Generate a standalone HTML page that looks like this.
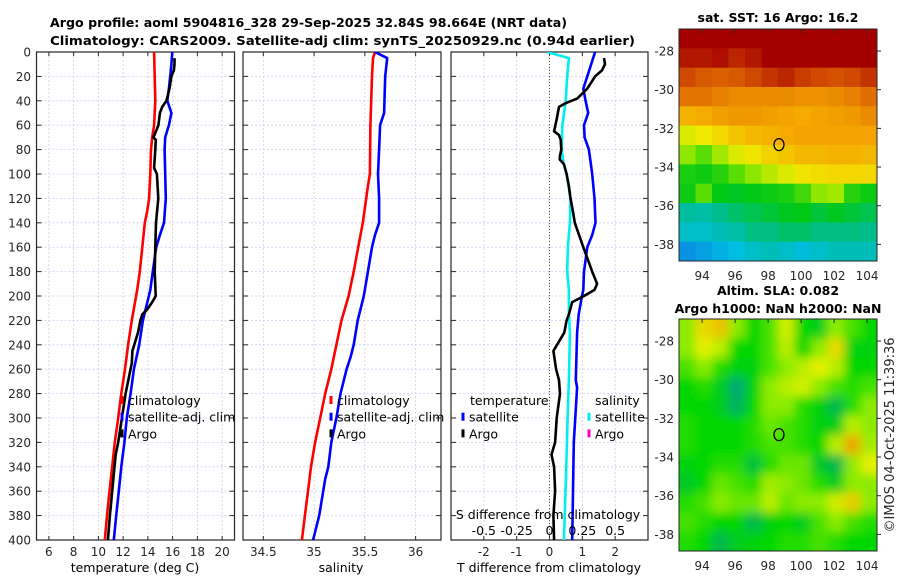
<!DOCTYPE html>
<html><head><meta charset="utf-8">
<style>
html,body{margin:0;padding:0;background:#fff;}
svg{display:block;font-family:"DejaVu Sans","Liberation Sans",sans-serif;}
.tk{font-size:12px;fill:#262626;}
.ttl{font-size:12.5px;font-weight:bold;fill:#000;}
.lg{font-size:12.5px;fill:#000;}
</style></head>
<body>
<svg id="fig" width="900" height="580" viewBox="0 0 900 580" xmlns="http://www.w3.org/2000/svg">
<defs>
<clipPath id="c1"><rect x="37" y="52" width="197" height="488"/></clipPath>
<clipPath id="c2"><rect x="243" y="52" width="198" height="488"/></clipPath>
<clipPath id="c3"><rect x="451" y="52" width="197" height="488"/></clipPath>
<clipPath id="cm1"><rect x="679" y="29" width="198" height="232"/></clipPath>
<clipPath id="cm2"><rect x="679" y="319" width="198" height="232"/></clipPath>
<filter id="blur" x="-5%" y="-5%" width="110%" height="110%"><feGaussianBlur stdDeviation="5"/></filter>
</defs>
<text class="ttl" x="50" y="27" textLength="517" lengthAdjust="spacingAndGlyphs">Argo profile: aoml 5904816_328 29-Sep-2025 32.84S 98.664E (NRT data)</text>
<text class="ttl" x="50" y="45" textLength="585" lengthAdjust="spacingAndGlyphs">Climatology: CARS2009. Satellite-adj clim: synTS_20250929.nc (0.94d earlier)</text>
<text class="ttl" x="778" y="22" text-anchor="middle">sat. SST: 16 Argo: 16.2</text>
<text class="ttl" x="778" y="295" text-anchor="middle">Altim. SLA: 0.082</text>
<text class="ttl" x="778" y="313" text-anchor="middle">Argo h1000: NaN h2000: NaN</text>
<text class="tk" x="0" y="0" transform="translate(894,435) rotate(-90)" text-anchor="middle" style="font-size:13px">©IMOS 04-Oct-2025 11:39:36</text>
<g id="root"></g>
</svg>
<script>
// ---------- data ----------
const depthTicks = [0,20,40,60,80,100,120,140,160,180,200,220,240,260,280,300,320,340,360,380,400];
const tempTicks = [6,8,10,12,14,16,18,20];
const salTicks = [34.5,35,35.5,36];
const tdiffTicks = [-2,-1,0,1,2];
const sdiffTicks = [-0.5,-0.25,0,0.25,0.5];

const climTdepth = [0,20,40,60,70,80,100,120,130,140,160,180,195,220,240,260,280,300,320,340,360,380,400];
const climT = [14.5,14.55,14.6,14.5,14.35,14.25,14.2,14.1,13.95,13.75,13.55,13.35,13.14,12.7,12.4,12.15,11.85,11.6,11.33,11.12,10.9,10.7,10.52];
const satTdepth = [0,10,20,30,40,50,60,70,80,100,120,140,150,160,180,195,220,240,260,280,300,320,340,360,380,400];
const satT = [15.97,15.9,15.8,15.7,15.57,15.9,15.7,15.4,15.35,15.4,15.45,15.3,14.97,14.67,14.4,14.2,13.6,13.3,12.87,12.6,12.3,12.1,11.85,11.65,11.44,11.25];
const argoTdepth = [5,10,15,20,30,40,45,50,60,65,70,72,80,95,100,120,140,160,180,200,205,211,215,220,230,245,255,265,280,300,320,330,340,360,380,400];
const argoT = [16.15,16.15,16.1,15.9,15.75,15.5,15.16,14.97,14.85,14.66,14.45,14.64,14.6,14.5,14.73,14.84,14.66,14.6,14.55,14.63,14.35,13.95,13.55,13.4,13.2,12.75,12.7,12.5,12.2,11.9,11.6,11.4,11.3,11.12,10.93,10.77];

const climSdepth = [0,5,20,60,100,110,140,160,180,200,220,240,260,280,300,320,340,360,380,400];
const climS = [35.6,35.58,35.57,35.555,35.55,35.53,35.48,35.435,35.39,35.34,35.27,35.22,35.17,35.11,35.06,35.01,34.97,34.94,34.91,34.88];
const satSdepth = [0,5,20,50,60,80,100,120,140,150,160,180,200,220,240,250,260,280,300,320,340,350,360,380,400];
const satS = [35.6,35.72,35.7,35.69,35.65,35.64,35.63,35.64,35.64,35.6,35.57,35.53,35.49,35.43,35.39,35.36,35.32,35.26,35.22,35.17,35.14,35.11,35.09,35.05,34.99];

const sdiffDepth = [0,5,20,40,60,80,90,100,120,140,160,180,195,215,230,269,300,350,400];
const satSdiff = [-0.018,0.148,0.135,0.123,0.098,0.093,0.105,0.13,0.16,0.155,0.14,0.135,0.148,0.148,0.155,0.148,0.138,0.125,0.11];
const tdiffDepth = [0,20,30,40,50,60,70,80,100,120,140,150,160,180,195,200,215,230,269,275,320,400];
const satTdiff = [1.39,1.15,1.03,1.1,1.18,1.05,1.07,1.2,1.3,1.37,1.4,1.3,1.15,1.05,1.03,0.99,0.89,0.84,0.8,0.84,0.74,0.69];
const argoDdepth = [5,10,15,20,30,38,42,45,55,65,68,72,80,85,88,92,100,110,120,130,140,160,180,190,195,200,205,215,220,230,245,260,269,280,300,320,330,340,360,380,400];
const argoTdiff = [1.66,1.69,1.6,1.39,1.15,0.85,0.49,0.29,0.22,0.14,0.29,0.34,0.36,0.32,0.31,0.44,0.52,0.59,0.64,0.71,0.77,1.03,1.3,1.45,1.37,1.05,0.69,0.59,0.52,0.45,0.12,0.2,0.29,0.32,0.22,0.17,0.06,0.14,0.17,0.12,0.14];

const lonTicks = [94,96,98,100,102,104];
const latTicks = [-28,-30,-32,-34,-36,-38];
const argoLon = 98.66, argoLat = -32.84;
const sstGrid = [
[1,1,1,1,1,1,1,1,1,1,1,1],
[0.97,0.97,0.98,0.95,0.97,1,1,1,1,1,1,1],
[0.9,0.88,0.87,0.88,0.9,0.93,0.95,0.92,0.9,0.89,0.9,0.93],
[0.84,0.84,0.82,0.8,0.8,0.8,0.8,0.79,0.79,0.8,0.82,0.85],
[0.74,0.75,0.77,0.78,0.78,0.77,0.76,0.75,0.76,0.77,0.78,0.8],
[0.63,0.65,0.68,0.71,0.73,0.74,0.75,0.76,0.76,0.76,0.76,0.76],
[0.56,0.52,0.58,0.63,0.66,0.69,0.71,0.73,0.73,0.74,0.74,0.73],
[0.47,0.46,0.48,0.52,0.56,0.6,0.63,0.66,0.67,0.68,0.68,0.68],
[0.46,0.52,0.45,0.44,0.45,0.46,0.47,0.5,0.56,0.58,0.48,0.46],
[0.33,0.32,0.35,0.38,0.4,0.42,0.44,0.45,0.42,0.44,0.42,0.4],
[0.28,0.28,0.3,0.32,0.36,0.36,0.38,0.38,0.36,0.36,0.36,0.35],
[0.15,0.18,0.22,0.25,0.28,0.3,0.28,0.26,0.28,0.3,0.3,0.3]];
const slaGrid = [
[0.6,0.85,0.9,0.6,0.4,0.5,0.75,0.4,0.3,0.6,0.5,0.4],
[0.6,0.8,0.7,0.4,0.4,0.5,0.7,0.4,0.6,0.85,0.35,0.35],
[0.5,0.6,0.45,0.35,0.35,0.5,0.6,0.7,0.8,0.7,0.4,0.4],
[0.4,0.45,0.3,0.05,0.35,0.6,0.7,0.75,0.6,0.5,0.45,0.5],
[0.4,0.4,0.3,0.1,0.4,0.6,0.6,0.45,0.35,0.15,0.45,0.6],
[0.45,0.4,0.4,0.4,0.45,0.55,0.5,0.45,0.35,0.3,0.7,0.6],
[0.45,0.4,0.4,0.4,0.45,0.5,0.5,0.45,0.4,0.7,0.97,0.65],
[0.35,0.4,0.45,0.45,0.2,0.45,0.55,0.55,0.25,0.15,0.6,0.8],
[0.25,0.4,0.55,0.5,0.45,0.65,0.6,0.55,0.45,0.3,0.6,0.6],
[0.45,0.5,0.6,0.55,0.55,0.7,0.55,0.6,0.6,0.75,0.88,0.6],
[0.5,0.45,0.4,0.4,0.15,0.35,0.4,0.3,0.5,0.6,0.5,0.45],
[0.45,0.4,0.15,0.3,0.35,0.4,0.45,0.45,0.5,0.45,0.4,0.4]];

// ---------- helpers ----------
const NS = "http://www.w3.org/2000/svg";
const root = document.getElementById('root');
function mk(tag, attrs, parent){ const e=document.createElementNS(NS,tag); for(const k in attrs) e.setAttribute(k,attrs[k]); (parent||root).appendChild(e); return e; }
const Y0=52, Y1=540;
const yD = d => Y0 + d*(Y1-Y0)/400;
function lin(d0,d1,r0,r1){ return v => r0 + (v-d0)*(r1-r0)/(d1-d0); }
const xT = lin(5,21,36.5,234.5);
const xS = lin(34.3,36.25,243,441);
const xTd = lin(-3,3,451,648);
const xSd = v => xTd(v*4);

function panel(name, x0, x1, xs, ticks, fmt, showY){
  const g = mk('g',{});
  
  
  ticks.forEach(t=>{ const x=xs(t);
    const l=mk('line',{x1:x,x2:x,y1:Y0,y2:Y1,stroke:'#d8c8d8','stroke-width':0.8,'stroke-dasharray':'2,2'},g);
     
    mk('line',{x1:x,x2:x,y1:Y1,y2:Y1-4,stroke:'#262626'},g);
    mk('line',{x1:x,x2:x,y1:Y0,y2:Y0+4,stroke:'#262626'},g);
    if(fmt){ const tx=mk('text',{x:x,y:556,'text-anchor':'middle',class:'tk'},g); tx.textContent=fmt(t);
        }
  });
  depthTicks.forEach(d=>{ const y=yD(d);
    const l=mk('line',{x1:x0,x2:x1,y1:y,y2:y,stroke:'#c8cdf0','stroke-width':0.8,'stroke-dasharray':'2,2'},g);
     
    mk('line',{x1:x0,x2:x0+5,y1:y,y2:y,stroke:'#262626'},g);
    mk('line',{x1:x1,x2:x1-5,y1:y,y2:y,stroke:'#262626'},g);
    if(showY){ const tx=mk('text',{x:31,y:y+4.5,'text-anchor':'end',class:'tk'},g); tx.textContent=d;
        }
  });
  const b=mk('rect',{x:x0,y:Y0,width:x1-x0,height:Y1-Y0,fill:'none',stroke:'#262626','stroke-width':1.2},g);
   
  return g;
}
function series(name, depths, vals, xs, color, clip, parent){
  const pts = depths.map((d,i)=> xs(vals[i]).toFixed(1)+','+yD(d).toFixed(1)).join(' ');
  const p = mk('polyline',{points:pts,fill:'none',stroke:color,'stroke-width':2.6,'stroke-linejoin':'round','clip-path':'url(#'+clip+')'},parent);
  
  
}
function legend(name, x, y0, items){
  const g = mk('g',{});
  
  
  items.forEach((it,i)=>{ const y=y0+i*16.7;
    mk('line',{x1:x,x2:x,y1:y-9,y2:y-1,stroke:it[1],'stroke-width':3},g);
    const t=mk('text',{x:x+6,y:y,class:'lg'},g); t.textContent=it[0];
     
  });
}
function axTitle(name, x, y, txt){ const t=mk('text',{x:x,y:y,'text-anchor':'middle',class:'lg'}); t.textContent=txt;
    }

// ---------- temperature panel ----------
const g1 = panel('temperature-panel',36.5,234.5,xT,tempTicks,v=>v,true);
series('temp-climatology-line',climTdepth,climT,xT,'#ff0000','c1',g1);
series('temp-satellite-adj-line',satTdepth,satT,xT,'#0000ff','c1',g1);
series('temp-argo-line',argoTdepth,argoT,xT,'#000000','c1',g1);
legend('temperature-legend',122,405,[['climatology','#ff0000'],['satellite-adj. clim','#0000ff'],['Argo','#000000']]);
axTitle('temperature-axis-title',135,572,'temperature (deg C)');

// ---------- salinity panel ----------
const g2 = panel('salinity-panel',243,441,xS,salTicks,v=>v,false);
series('sal-climatology-line',climSdepth,climS,xS,'#ff0000','c2',g2);
series('sal-satellite-adj-line',satSdepth,satS,xS,'#0000ff','c2',g2);
legend('salinity-legend',331,405,[['climatology','#ff0000'],['satellite-adj. clim','#0000ff'],['Argo','#000000']]);
axTitle('salinity-axis-title',341,572,'salinity');

// ---------- difference panel ----------
const g3 = panel('difference-panel',451,648,xTd,tdiffTicks,v=>v,false);
const zl = mk('line',{x1:xTd(0),x2:xTd(0),y1:Y0,y2:Y1,stroke:'#4a5a2a','stroke-width':1,'stroke-dasharray':'1,2'},g3);
 
series('sal-diff-satellite-line',sdiffDepth,satSdiff,xSd,'#00eeee','c3',g3);
series('temp-diff-satellite-line',tdiffDepth,satTdiff,xTd,'#0000ff','c3',g3);
series('temp-diff-argo-line',argoDdepth,argoTdiff,xTd,'#000000','c3',g3);
{ const t=mk('text',{x:470,y:405,class:'lg'}); t.textContent='temperature';
    }
{ const t=mk('text',{x:595,y:405,class:'lg'}); t.textContent='salinity';
    }
legend('diff-temp-legend',463,421.7,[['satellite','#0000ff'],['Argo','#000000']]);
legend('diff-sal-legend',589,421.7,[['satellite','#00eeee'],['Argo','#ff00cc']]);
axTitle('s-difference-axis-title',548,519,'S difference from climatology');
sdiffTicks.forEach(v=>{ const t=mk('text',{x:xSd(v),y:535,'text-anchor':'middle',class:'lg'}); t.textContent=String(v);
    });
axTitle('t-difference-axis-title',549,572,'T difference from climatology');

// ---------- maps ----------
function cmap(stops, v){
  for(let i=1;i<stops.length;i++){ if(v<=stops[i][0]){ const a=stops[i-1],b=stops[i]; const f=(v-a[0])/(b[0]-a[0]);
    return 'rgb('+[1,2,3].map(k=>Math.round(a[k]+(b[k]-a[k])*f)).join(',')+')'; } }
  const l=stops[stops.length-1]; return 'rgb('+l[1]+','+l[2]+','+l[3]+')';
}
const sstStops=[[0,20,80,230],[0.25,0,190,225],[0.35,0,190,140],[0.45,0,200,20],[0.55,130,230,0],[0.65,240,235,0],[0.75,245,170,0],[0.85,225,110,0],[0.92,200,60,0],[1,165,0,0]];
const slaStops=[[0,0,160,130],[0.25,0,200,40],[0.4,0,215,0],[0.6,140,235,0],[0.8,230,240,0],[1,240,150,0]];
const MX0=679, MX1=877;
const xLon = lin(92.6,104.6,MX0,MX1);
function map(name, top, grid, stops, clip, blur){
  const yLat = lin(-26.86,-38.86,top,top+232);
  const g = mk('g',{});
  
  
  const cells = mk('g',{'clip-path':'url(#'+clip+')'},g);
  const inner = blur ? mk('g',{filter:'url(#blur)'},cells) : cells;
  grid.forEach((row,r)=>row.forEach((v,c)=>{
    const pad = blur?14:0;
    const x0=xLon(92.6+c)-(c==0?pad:0), x1=xLon(93.6+c)+(c==11?pad:0);
    const y0=yLat(-26.86-r)-(r==0?pad:0), y1=yLat(-27.86-r)+(r==11?pad:0);
    const rc=mk('rect',{x:x0,y:y0,width:x1-x0+0.5,height:y1-y0+0.5,fill:cmap(stops,v)},inner);
    
    
  }));
  const ci=mk('ellipse',{cx:xLon(argoLon),cy:yLat(argoLat),rx:5,ry:6,fill:'none',stroke:'#000','stroke-width':1.3},g);
   
  lonTicks.forEach(lo=>{ const x=xLon(lo);
    mk('line',{x1:x,x2:x,y1:top,y2:top+4,stroke:'#262626'},g);
    const t=mk('text',{x:x,y:top+251,'text-anchor':'middle',class:'tk'},g); t.textContent=lo;
      });
  latTicks.forEach(la=>{ const y=yLat(la);
    mk('line',{x1:MX1,x2:MX1+4,y1:y,y2:y,stroke:'#262626'},g);
    const t=mk('text',{x:674,y:y+4.5,'text-anchor':'end',class:'tk'},g); t.textContent=la;
      });
  const b=mk('rect',{x:MX0,y:top,width:MX1-MX0,height:232,fill:'none',stroke:'#262626','stroke-width':1},g);
   
}
map('sst-map',29,sstGrid,sstStops,'cm1',false);
map('sla-map',319,slaGrid,slaStops,'cm2',true);
</script>
</body></html>
